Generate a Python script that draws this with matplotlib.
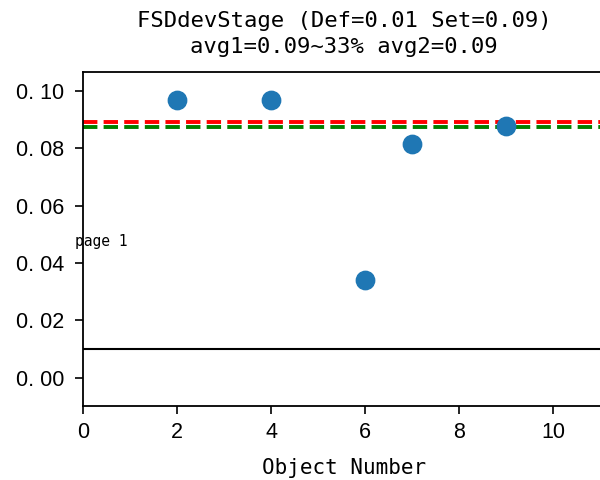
import matplotlib
matplotlib.use("Agg")
import matplotlib.pyplot as plt

plt.rcParams['font.family'] = ['DejaVu Sans Mono', 'Noto Sans CJK SC']
tick_family = ['Liberation Sans', 'DejaVu Sans']

obj_x = [2, 4, 6, 7, 9]
obj_y = [0.0968, 0.0968, 0.0342, 0.0815, 0.0878]
def_val = 0.01
set_val = 0.0892
avg_val = 0.0876
title = "FSDdevStage (Def=0.01 Set=0.09)\navg1=0.09~33% avg2=0.09"
yticks = [0.0, 0.02, 0.04, 0.06, 0.08, 0.10]
ytick_labels = ['0. 00', '0. 02', '0. 04', '0. 06', '0. 08', '0. 10']
xticks = [0, 2, 4, 6, 8, 10]
xtick_labels = ['0', '2', '4', '6', '8', '10']

fig = plt.figure(figsize=(6, 4.8), dpi=100)
ax = fig.add_axes([83/600, 74/480, 522/600, 334/480])
ax.scatter(obj_x, obj_y, s=175, color='#1f77b4', zorder=3)
ax.axhline(def_val, color='black', lw=1.5)
ax.axhline(set_val, color='red', lw=2.8, ls='--')
ax.axhline(avg_val, color='green', lw=2.8, ls='--')
ax.set_xlim(0, 522/47)
ax.set_ylim(-0.0098, 0.1066)
ax.set_xticks(xticks)
ax.set_xticklabels(xtick_labels, family=tick_family, fontsize=15.5)
ax.set_yticks(yticks)
ax.set_yticklabels(ytick_labels, family=tick_family, fontsize=15.5)
ax.tick_params(length=5.5, width=1.2)
ax.tick_params(axis='x', pad=6)
ax.tick_params(axis='y', pad=8)
for s in ax.spines.values():
    s.set_linewidth(1.3)
ax.set_xlabel('Object Number', fontsize=15, labelpad=11)
ax.set_title(title, fontsize=16, pad=14, linespacing=1.35)
ax.text(-0.18, 0.0474, 'page 1', fontsize=10.5, ha='left', va='center')
fig.savefig('out.png', dpi=100)
